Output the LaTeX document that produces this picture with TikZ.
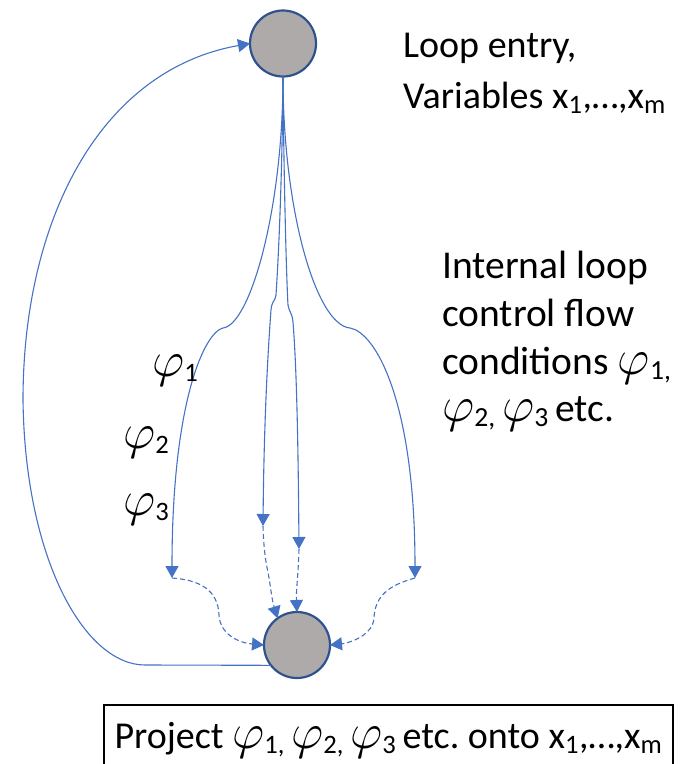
\RequirePackage{fix-cm}
\documentclass[tikz,border=0pt]{standalone}
\usepackage{fontspec}
\setmainfont{Carlito}
\usetikzlibrary{arrows.meta}
\definecolor{lineblue}{HTML}{4472C4}
\definecolor{circfill}{HTML}{AEAAAA}
\definecolor{circdraw}{HTML}{2F528F}
\newcommand\vphi{{\fontsize{50}{50}\selectfont$\varphi$}}
\begin{document}
\begin{tikzpicture}[x=1pt,y=-1pt,
  state/.style={circle,draw=circdraw,line width=2.2pt,fill=circfill,minimum size=66pt,inner sep=0pt,outer sep=0pt},
  flow/.style={lineblue,line width=1.1pt,-{Triangle[width=13pt,length=12pt]}},
  dflow/.style={flow,dash pattern=on 5pt off 3pt},
  lab/.style={font=\fontsize{38}{45}\selectfont,inner sep=0pt,anchor=base west},
  labb/.style={lab,font=\fontsize{39.5}{45}\selectfont}]
\useasboundingbox (0,0) rectangle (697,764);
\node[state] (t) at (283,43.5) {};
\node[state] (b) at (297,645) {};
\coordinate (a1) at (172,578);
\coordinate (a2) at (263,526);
\coordinate (a3) at (299,549);
\coordinate (a4) at (415,578);
% solid branches
\draw[flow] (t.south) .. controls (283,210) and (250,325) .. (223,328)
  .. controls (205,332) and (172,400) .. (a1);
\draw[flow] (t.south) .. controls (282,200) and (277,280) .. (276,295)
  .. controls (275,302) and (272,300) .. (271,310)
  .. controls (268,350) and (264,420) .. (a2);
\draw[flow] (t.south) .. controls (284,200) and (287,290) .. (288,305)
  .. controls (289,312) and (292,312) .. (293,322)
  .. controls (296,360) and (298,420) .. (a3);
\draw[flow] (t.south) .. controls (283,210) and (316,325) .. (350,328)
  .. controls (375,332) and (415,400) .. (a4);
% dashed joins
\draw[dflow] (a1) .. controls (200,580) and (218,590) .. (219,615)
  .. controls (220,635) and (240,643) .. (b.west);
\draw[dflow] (a2) .. controls (264,560) and (268,570) .. (269,578)
  .. controls (271,590) and (272,600) .. (b.126);
\draw[dflow] (a3) .. controls (298,580) and (296,590) .. (b.north);
\draw[dflow] (a4) .. controls (390,585) and (375,595) .. (374,618)
  .. controls (373,635) and (350,643) .. (b.east);
% loop back
\draw[flow] (b.218) -- (145,665) .. controls (85,665) and (25,560) .. (23,400)
  .. controls (23,220) and (100,70) .. (t.west);
% labels
\node[lab] (l1) at (403,57) {Loop entry,};
\node[lab] (l2) at (403,108) {Variables x\textsubscript{1},…,x\textsubscript{m}};
\node[labb] (i1) at (442,278) {Internal loop};
\node[labb] (i2) at (442,326) {control flow};
\node[labb] (i3) at (442,374) {conditions \vphi\textsubscript{1,}};
\node[labb] (i4) at (442,421) {\vphi\textsubscript{2,}\,\vphi\textsubscript{3}\,etc.};
\node[lab] (p1) at (152,376) {\vphi\textsubscript{1}};
\node[lab] (p2) at (123,448) {\vphi\textsubscript{2}};
\node[lab] (p3) at (123,515) {\vphi\textsubscript{3}};
\node[draw=black,line width=1.5pt,minimum width=569pt,minimum height=70pt,inner sep=0pt,
  font=\fontsize{38}{45}\selectfont] (proj) at (388.5,740)
  {Project \vphi\textsubscript{1,}\,\vphi\textsubscript{2,}\,\vphi\textsubscript{3}\,etc.\ onto x\textsubscript{1},…,x\textsubscript{m}};
\end{tikzpicture}
\end{document}
